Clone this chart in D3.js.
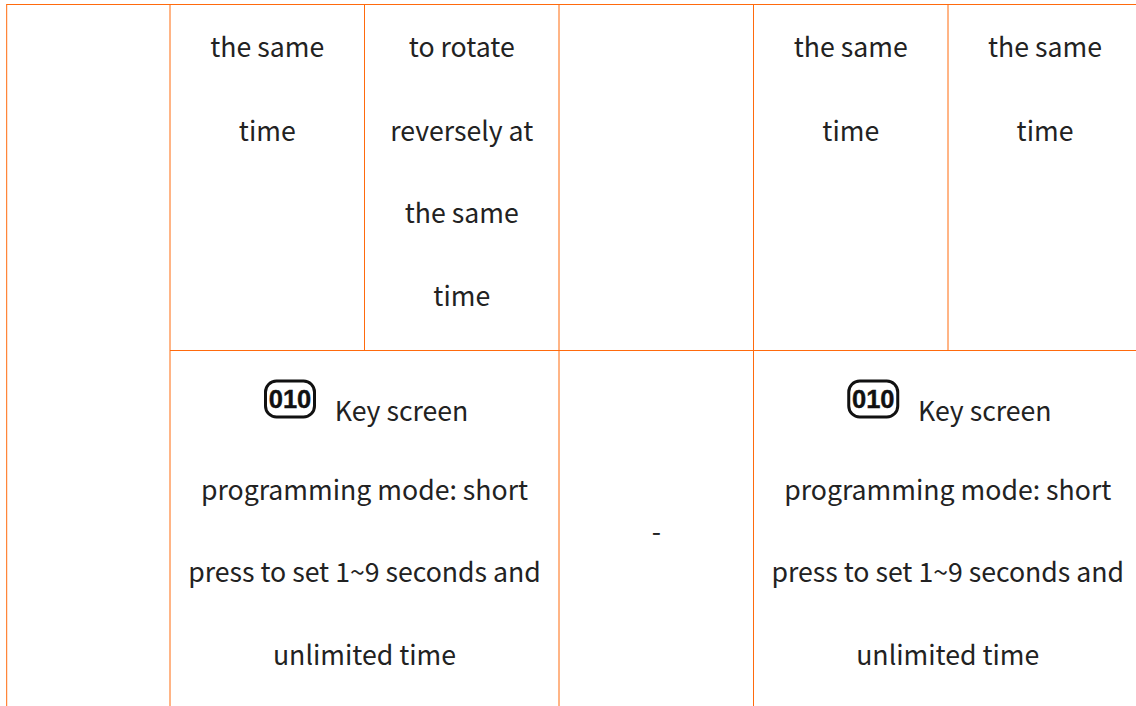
<!DOCTYPE html>
<html>
<head>
<meta charset="utf-8">
<script src="https://cdn.jsdelivr.net/npm/d3@7"></script>
<style>
  html, body { margin: 0; padding: 0; background: #fff; overflow: hidden; }
  svg { display: block; }
</style>
</head>
<body>
<svg id="table" width="1136" height="706"></svg>
<script>
const colEdges = [6.7, 170, 364.5, 559, 753.5, 948, 1142]
const rowEdges = [4.5, 350.5, 706]

const topCells = [
  { from: 1, to: 2, lines: ["the same", "time"] },
  { from: 2, to: 3, lines: ["to rotate", "reversely at", "the same", "time"] },
  { from: 4, to: 5, lines: ["the same", "time"] },
  { from: 5, to: 6, lines: ["the same", "time"] }
]
const keyLines = ["Key screen", "programming mode: short", "press to set 1~9 seconds and", "unlimited time"]
const bottomCells = [
  { from: 1, to: 3, lines: keyLines, icon: "010" },
  { from: 3, to: 4, lines: ["-"], middle: true },
  { from: 4, to: 6, lines: keyLines, icon: "010" }
]
const topBaselines = [47, 131, 213, 296]
const bottomBaselines = [411, 490, 572, 655]

const svg = d3.select("#table")
const orange = "#ff6a0d"
const font = "'Noto Sans CJK SC', 'Noto Sans', sans-serif"

// horizontal rules
svg.append("line").attr("x1", colEdges[0] - 0.5).attr("x2", 1136)
  .attr("y1", rowEdges[0]).attr("y2", rowEdges[0])
  .attr("stroke", orange).attr("stroke-width", 1.2)
svg.append("line").attr("x1", colEdges[1]).attr("x2", 1136)
  .attr("y1", rowEdges[1]).attr("y2", rowEdges[1])
  .attr("stroke", orange).attr("stroke-width", 1)

// vertical rules
const verticals = [
  [0, rowEdges[0], rowEdges[2]],
  [1, rowEdges[0], rowEdges[2]],
  [2, rowEdges[0], rowEdges[1]],
  [3, rowEdges[0], rowEdges[2]],
  [4, rowEdges[0], rowEdges[2]],
  [5, rowEdges[0], rowEdges[1]]
]
svg.selectAll("line.v").data(verticals).join("line")
  .attr("class", "v")
  .attr("x1", d => colEdges[d[0]]).attr("x2", d => colEdges[d[0]])
  .attr("y1", d => d[1]).attr("y2", d => d[2])
  .attr("stroke", orange).attr("stroke-width", 1)

function drawCell(cell, baselines) {
  const cx = (colEdges[cell.from] + colEdges[cell.to]) / 2
  cell.lines.forEach((t, i) => {
    const y = cell.middle ? 541 : baselines[i] + 10
    svg.append("text")
      .attr("x", cell.icon && i === 0 ? cx + 37 : cx).attr("y", y)
      .attr("text-anchor", "middle")
      .attr("font-family", font).attr("font-size", 26.67)
      .attr("fill", "#222").text(t)
  })
  if (cell.icon) {
    const g = svg.append("g").attr("transform", `translate(${cx - 99},381)`)
    g.append("rect").attr("x", 0).attr("y", 0).attr("width", 49).attr("height", 36).attr("rx", 11)
      .attr("fill", "#fff").attr("stroke", "#111").attr("stroke-width", 3)
    g.append("text").attr("x", 24.5).attr("y", 27).attr("text-anchor", "middle")
      .attr("font-family", "'Liberation Sans', sans-serif").attr("font-weight", 700)
      .attr("font-size", 25.5).attr("stroke", "#111").attr("stroke-width", 0.4)
      .attr("fill", "#111").text(cell.icon)
  }
}
topCells.forEach(c => drawCell(c, topBaselines))
bottomCells.forEach(c => drawCell(c, bottomBaselines))
</script>
</body>
</html>
